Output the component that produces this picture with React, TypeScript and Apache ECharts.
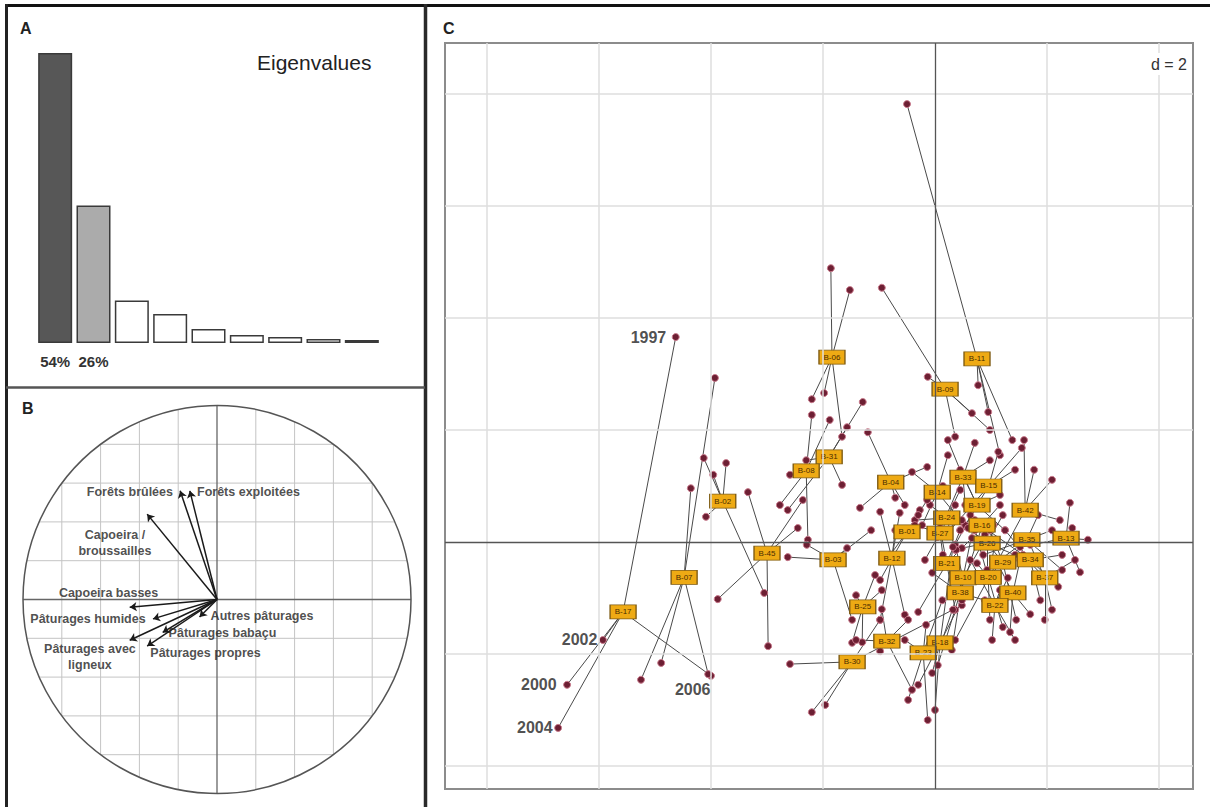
import React, { useEffect, useRef } from "react";
import * as echarts from "echarts";

// ---------- Panel A: eigenvalues (share of inertia, %) ----------
const eigenShares = [54, 25.6, 7.9, 5.4, 2.6, 1.5, 1.1, 0.75, 0.55];
const eigenAxes = ["1", "2", "3", "4", "5", "6", "7", "8", "9"];

// ---------- Panel B: correlation circle ----------
const variableNames = [
  "Forêts brûlées",
  "Forêts exploitées",
  "Capoeira /\nbroussailles",
  "Capoeira basses",
  "Pâturages humides",
  "Pâturages avec\nligneux",
  "Pâturages propres",
  "Pâturages babaçu",
  "Autres pâturages",
];
const arrowX = [-0.19, -0.14, -0.36, -0.45, -0.33, -0.45, -0.36, -0.28, -0.09];
const arrowY = [0.56, 0.56, 0.44, -0.04, -0.1, -0.21, -0.24, -0.17, -0.09];
const varLabelX = [-0.227, -0.103, -0.526, -0.559, -0.665, -0.655, -0.059, 0.028, 0.232];
const varLabelY = [0.554, 0.554, 0.289, 0.034, -0.1, -0.296, -0.276, -0.173, -0.085];
const varLabelAlign = ["right", "left", "center", "center", "center", "center", "center", "center", "center"];
const corGridStep = 0.2;

// ---------- Panel C: farms (class centroids) and yearly positions ----------
const years = ["1997", "2000", "2002", "2004", "2006"];
const siteNames = [
  "B-17", "B-07", "B-02", "B-45", "B-06", "B-31", "B-08", "B-03", "B-11", "B-09",
  "B-04", "B-14", "B-33", "B-15", "B-19", "B-42", "B-24", "B-01", "B-27", "B-16",
  "B-26", "B-35", "B-13", "B-12", "B-21", "B-29", "B-34", "B-10", "B-20", "B-37",
  "B-40", "B-38", "B-22", "B-25", "B-18", "B-32", "B-23", "B-30",
];
const siteX = [
  -5.57, -4.48, -3.79, -3.0, -1.84, -1.89, -2.3, -1.82, 0.75, 0.18,
  -0.79, 0.04, 0.5, 0.96, 0.75, 1.61, 0.21, -0.5, 0.09, 0.84,
  0.93, 1.64, 2.34, -0.77, 0.21, 1.21, 1.7, 0.5, 0.95, 1.96,
  1.39, 0.45, 1.07, -1.29, 0.09, -0.86, -0.21, -1.48,
];
const siteY = [
  -1.25, -0.63, 0.73, -0.2, 3.3, 1.52, 1.27, -0.32, 3.27, 2.73,
  1.07, 0.89, 1.16, 1.0, 0.66, 0.57, 0.43, 0.18, 0.16, 0.3,
  -0.02, 0.04, 0.07, -0.29, -0.38, -0.36, -0.32, -0.64, -0.63, -0.64,
  -0.91, -0.91, -1.13, -1.16, -1.8, -1.77, -1.98, -2.14,
];
const pointsX = [
  [-4.63, -6.57, -5.93, -6.73, -4.0],
  [-3.93, -4.36, -5.25, -4.89, -4.05],
  [-4.13, -3.96, -3.73, -4.09, -3.05],
  [-3.34, -2.36, -3.88, -2.98, -2.45],
  [-1.86, -1.52, -2.2, -1.98, -1.66],
  [-1.29, -1.57, -1.66, -2.3, -2.63],
  [-2.2, -1.88, -2.27, -2.77, -2.59],
  [-2.63, -2.29, -1.57, -1.48, -1.14],
  [-0.5, 0.95, 1.16, 1.38, 0.77],
  [-0.95, -0.13, 0.36, 0.66, 0.98],
  [-1.2, -1.34, -0.14, -0.54, -0.71],
  [-0.41, -0.23, 0.48, 0.23, 0.14],
  [0.23, 0.71, 0.98, 0.54, 0.04],
  [1.13, 1.43, 1.55, 0.54, 0.2],
  [0.45, 1.16, 1.25, 0.36, 0.54],
  [1.59, 1.77, 2.09, 2.23, 0.36],
  [-0.09, -0.36, 0.45, 0.71, 0.36],
  [-0.8, -0.98, -0.27, -0.14, -0.3],
  [-0.18, 0.36, 0.48, -0.36, 0.14],
  [1.16, 1.07, 0.45, 0.63, 0.89],
  [1.43, 0.48, 1.21, 0.59, 0.93],
  [2.09, 1.84, 2.27, 1.16, 0.86],
  [2.41, 2.73, 2.59, 2.45, 1.52],
  [-0.98, -0.54, -0.98, -0.71, -0.63],
  [0.36, -0.3, 0.45, 0.66, 0.09],
  [1.45, 1.7, 0.98, 0.89, 0.88],
  [2.2, 2.27, 1.25, 1.88, 0.89],
  [0.13, 0.3, 1.04, 0.71, 0.38],
  [0.98, 1.21, 0.71, 1.07, 0.75],
  [2.09, 1.96, 2.5, 1.7, 1.57],
  [1.7, 1.34, 1.13, 1.52, 1.25],
  [0.48, 0.89, 0.05, -0.05, 0.86],
  [1.02, 1.43, 0.63, 1.16, 1.3],
  [-1.48, -1.3, -1.07, -0.95, -1.41],
  [-0.05, -0.3, 0.0, 0.48, 0.32],
  [-1.41, -0.41, -0.48, -0.98, -0.95],
  [-0.48, -0.13, 0.13, -0.54, -0.16],
  [-2.59, -2.2, -1.96, -0.98, 0.32],
];
const pointsY = [
  [3.66, -2.55, -1.75, -3.32, -2.39],
  [2.93, 0.96, -2.46, -2.16, -2.36],
  [1.5, 1.2, 1.41, 0.45, -0.91],
  [0.89, 0.75, -1.02, -1.86, 0.25],
  [4.89, 4.5, 2.55, 2.66, 1.88],
  [2.5, 2.05, 1.02, 1.46, 0.57],
  [2.27, 2.18, 0.04, 0.66, 1.2],
  [-0.27, -0.05, -0.11, -1.39, 0.21],
  [7.82, 2.32, 1.55, 1.82, 2.8],
  [4.54, 2.95, 1.88, 2.3, 2.0],
  [1.96, 0.61, 1.34, 0.66, 0.79],
  [1.25, 0.3, 0.36, 1.55, 1.0],
  [1.82, 1.77, 1.46, 0.66, 0.09],
  [1.61, 1.29, 1.68, 0.3, 0.13],
  [1.29, 0.84, 0.21, -0.05, 1.11],
  [1.82, 1.29, 1.11, 0.39, -1.75],
  [0.66, 0.39, 0.93, 0.21, -0.14],
  [-0.23, -0.68, 0.57, 0.75, 0.48],
  [-0.32, 0.66, 0.39, 0.3, -0.23],
  [0.66, 0.04, 0.21, 0.48, 0.13],
  [-0.23, -0.11, 0.48, 0.25, -0.5],
  [0.21, 0.48, -0.5, -0.32, -0.23],
  [0.7, 0.04, -0.54, 0.25, -0.09],
  [-1.39, -1.3, 0.54, 0.21, 0.52],
  [-1.21, -1.25, 0.21, 0.07, 0.25],
  [-1.39, 0.04, 0.21, -0.68, 0.04],
  [-0.8, -0.23, 0.21, -1.04, 0.25],
  [-1.75, -1.93, 0.3, 0.39, -0.14],
  [-1.39, -1.52, 0.21, -0.05, -0.38],
  [-1.21, -1.39, -0.32, -0.05, -0.23],
  [-1.29, -1.61, -0.41, -0.32, -1.02],
  [-1.13, -1.04, -2.2, -0.55, 0.34],
  [-1.75, -1.75, -0.32, -0.86, -0.64],
  [-1.8, -1.79, -0.59, -0.86, -0.95],
  [-2.34, -2.55, -3.0, -1.04, -0.09],
  [-1.75, -2.64, -1.39, -1.95, -1.2],
  [-2.82, -3.18, -1.04, -1.75, -1.48],
  [-2.18, -3.04, -2.91, -1.39, -1.21],
];
const gridLinesX = [-8, -6, -4, -2, 2, 4];
const gridLinesY = [-4, -2, 2, 4, 6, 8];
const labelledSite = 0;

const FONT = "'Liberation Sans', Arial, sans-serif";

export default function App() {
  const ref = useRef<HTMLDivElement>(null);

  useEffect(() => {
    if (!ref.current) return;
    const chart = echarts.init(ref.current, undefined, { renderer: "svg" });

    const starLines: any[] = [];
    const yearPoints: any[] = [];
    siteNames.forEach((_, i) => {
      pointsX[i].forEach((px, j) => {
        starLines.push({ coords: [[siteX[i], siteY[i]], [px, pointsY[i][j]]] });
        yearPoints.push([px, pointsY[i][j]]);
      });
    });

    const yearLabelDist = [9, 10, 5, 5, 0];
    const yearLabelOffset = [[0, 0], [0, 0], [0, 0], [0, 0], [0, 14]];

    const option: any = {
      animation: false,
      textStyle: { fontFamily: FONT },
      grid: [
        { left: 36, top: 53, width: 345, height: 290 },
        { left: 23, top: 405.5, width: 388, height: 388 },
        { left: 445, top: 43, width: 748, height: 746, show: true, borderColor: "#8c8c8c", borderWidth: 2, backgroundColor: "transparent" },
      ],
      xAxis: [
        { gridIndex: 0, type: "category", data: eigenAxes, show: false },
        { gridIndex: 1, type: "value", min: -1, max: 1, show: false },
        { gridIndex: 2, type: "value", min: -8.75, max: 4.607, show: false },
      ],
      yAxis: [
        { gridIndex: 0, type: "value", min: 0, max: 54, show: false },
        { gridIndex: 1, type: "value", min: -1, max: 1, show: false },
        { gridIndex: 2, type: "value", min: -4.411, max: 8.911, show: false },
      ],
      series: [
        // Panel A
        {
          type: "bar",
          xAxisIndex: 0,
          yAxisIndex: 0,
          barWidth: 34,
          silent: true,
          data: eigenShares.map((v, i) => ({
            value: v,
            itemStyle: { color: i === 0 ? "#575757" : i === 1 ? "#ababab" : "#ffffff" },
          })),
          itemStyle: { borderColor: "#3a3a3a", borderWidth: 1.5 },
          label: {
            show: true,
            position: "bottom",
            distance: 11,
            formatter: (p: any) => (p.dataIndex < 2 ? Math.round(p.value) + "%" : ""),
            fontSize: 15,
            fontWeight: "bold",
            color: "#333",
            fontFamily: FONT,
          },
        },
        // Panel B: circle and grid
        {
          type: "custom",
          xAxisIndex: 1,
          yAxisIndex: 1,
          data: [[0, 0]],
          silent: true,
          clip: false,
          z: 1,
          renderItem: (_params: any, api: any) => {
            const c = api.coord([0, 0]);
            const r = api.coord([1, 0])[0] - c[0];
            const children: any[] = [];
            const n = Math.round(1 / corGridStep);
            for (let k = -(n - 1); k <= n - 1; k++) {
              if (k === 0) continue;
              const v = k * corGridStep;
              const h = Math.sqrt(1 - v * v) * r;
              const o = v * r;
              const st = { stroke: "#c4c4c4", lineWidth: 1 };
              children.push({ type: "line", shape: { x1: c[0] + o, y1: c[1] - h, x2: c[0] + o, y2: c[1] + h }, style: st });
              children.push({ type: "line", shape: { x1: c[0] - h, y1: c[1] + o, x2: c[0] + h, y2: c[1] + o }, style: st });
            }
            const ax = { stroke: "#666", lineWidth: 1.3 };
            children.push({ type: "line", shape: { x1: c[0], y1: c[1] - r, x2: c[0], y2: c[1] + r }, style: ax });
            children.push({ type: "line", shape: { x1: c[0] - r, y1: c[1], x2: c[0] + r, y2: c[1] }, style: ax });
            children.push({ type: "circle", shape: { cx: c[0], cy: c[1], r }, style: { fill: "transparent", stroke: "#555", lineWidth: 1.5 } });
            return { type: "group", children };
          },
        },
        // Panel B: arrows
        {
          type: "lines",
          coordinateSystem: "cartesian2d",
          xAxisIndex: 1,
          yAxisIndex: 1,
          silent: true,
          z: 3,
          symbol: ["none", "arrow"],
          symbolSize: 7,
          lineStyle: { color: "#1a1a1a", width: 1.5, opacity: 1 },
          data: variableNames.map((_, i) => ({ coords: [[0, 0], [arrowX[i], arrowY[i]]] })),
        },
        // Panel B: labels
        {
          type: "scatter",
          xAxisIndex: 1,
          yAxisIndex: 1,
          silent: true,
          z: 4,
          symbolSize: 1,
          itemStyle: { color: "rgba(0,0,0,0)" },
          data: variableNames.map((name, i) => ({
            name,
            value: [varLabelX[i], varLabelY[i]],
            label: { align: varLabelAlign[i] },
          })),
          label: {
            show: true,
            position: "inside",
            formatter: "{b}",
            fontSize: 12.5,
            fontWeight: "bold",
            color: "#222",
            lineHeight: 16,
            fontFamily: FONT,
          },
        },
        // Panel C: reference grid + axes
        {
          type: "scatter",
          xAxisIndex: 2,
          yAxisIndex: 2,
          silent: true,
          z: 1,
          symbolSize: 0,
          data: [[0, 0]],
          markLine: {
            silent: true,
            symbol: ["none", "none"],
            label: { show: false },
            lineStyle: { color: "#dedede", width: 1.5, type: "solid" },
            data: [
              ...gridLinesX.map((v) => ({ xAxis: v })),
              ...gridLinesY.map((v) => ({ yAxis: v })),
              { xAxis: 0, lineStyle: { color: "#555", width: 1.3, type: "solid" } },
              { yAxis: 0, lineStyle: { color: "#555", width: 1.3, type: "solid" } },
            ],
          },
        },
        // Panel C: star lines
        {
          type: "lines",
          coordinateSystem: "cartesian2d",
          xAxisIndex: 2,
          yAxisIndex: 2,
          silent: true,
          z: 2,
          lineStyle: { color: "#4a4a4a", width: 1, opacity: 1 },
          data: starLines,
        },
        // Panel C: yearly points
        {
          type: "scatter",
          xAxisIndex: 2,
          yAxisIndex: 2,
          silent: true,
          z: 3,
          symbolSize: 7,
          itemStyle: { color: "#6d1f33", borderColor: "#c97b8d", borderWidth: 1, opacity: 1 },
          data: yearPoints,
        },
        // Panel C: farm labels
        {
          type: "scatter",
          xAxisIndex: 2,
          yAxisIndex: 2,
          silent: true,
          z: 4,
          symbol: "rect",
          symbolSize: [26, 14],
          itemStyle: { color: "#EEAA14", borderColor: "#7d5a12", borderWidth: 1, opacity: 1 },
          data: siteNames.map((name, i) => ({ name, value: [siteX[i], siteY[i]] })),
          label: { show: true, position: "inside", formatter: "{b}", fontSize: 8, color: "#4a2c00", fontFamily: FONT },
        },
        // Panel C: year labels of the annotated farm
        {
          type: "scatter",
          xAxisIndex: 2,
          yAxisIndex: 2,
          silent: true,
          z: 5,
          symbolSize: 1,
          itemStyle: { color: "rgba(0,0,0,0)" },
          data: years.map((yr, j) => ({
            name: yr,
            value: [pointsX[labelledSite][j], pointsY[labelledSite][j]],
            label: { distance: yearLabelDist[j], offset: yearLabelOffset[j] },
          })),
          label: { show: true, position: "left", formatter: "{b}", fontSize: 16, fontWeight: "bold", color: "#222", fontFamily: FONT },
        },
      ],
      graphic: [
        { type: "line", silent: true, z: 100, shape: { x1: 5, y1: 5.5, x2: 1210, y2: 5.5 }, style: { stroke: "#111", lineWidth: 3 } },
        { type: "line", silent: true, z: 100, shape: { x1: 6.5, y1: 4, x2: 6.5, y2: 807 }, style: { stroke: "#222", lineWidth: 3 } },
        { type: "line", silent: true, z: 100, shape: { x1: 425.5, y1: 4, x2: 425.5, y2: 807 }, style: { stroke: "#2a2a2a", lineWidth: 3.5 } },
        { type: "line", silent: true, z: 100, shape: { x1: 6, y1: 387.5, x2: 425, y2: 387.5 }, style: { stroke: "#555", lineWidth: 2.5 } },
        { type: "text", silent: true, x: 20, y: 28, style: { text: "A", fontSize: 16, fontWeight: "bold", fontFamily: FONT, fill: "#222", verticalAlign: "middle" } },
        { type: "text", silent: true, x: 22, y: 408, style: { text: "B", fontSize: 16, fontWeight: "bold", fontFamily: FONT, fill: "#222", verticalAlign: "middle" } },
        { type: "text", silent: true, x: 443, y: 28, style: { text: "C", fontSize: 16, fontWeight: "bold", fontFamily: FONT, fill: "#222", verticalAlign: "middle" } },
        { type: "text", silent: true, x: 257, y: 62, style: { text: "Eigenvalues", fontSize: 21, fontFamily: FONT, fill: "#222", verticalAlign: "middle" } },
        {
          type: "text",
          silent: true,
          z: 100,
          x: 1189,
          y: 64,
          style: {
            text: "d = 2",
            fontSize: 16,
            fontFamily: FONT,
            fill: "#333",
            align: "right",
            verticalAlign: "middle",
            backgroundColor: "#ffffff",
            padding: [3, 2, 3, 4],
          },
        },
      ],
    };

    chart.setOption(option);
    return () => chart.dispose();
  }, []);

  return (
    <div
      ref={ref}
      style={{ position: "fixed", left: 0, top: 0, width: 1210, height: 807, background: "#fff" }}
    />
  );
}
